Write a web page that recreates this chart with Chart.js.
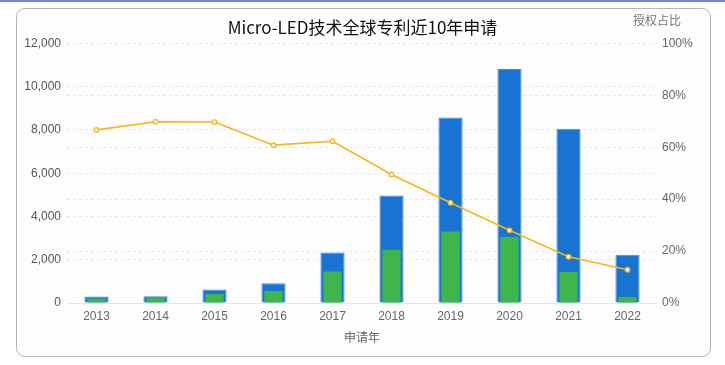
<!DOCTYPE html>
<html>
<head>
<meta charset="utf-8">
<script src="https://cdn.jsdelivr.net/npm/chart.js@4"></script>
<style>
  html, body { margin: 0; padding: 0; background: #ffffff; }
  #wrap { position: relative; width: 725px; height: 365px; overflow: hidden; }
  #topline { position: absolute; left: 0; top: 0; width: 725px; height: 2px; background: #6f88d8; }
  #card { position: absolute; left: 16px; top: 8px; width: 693px; height: 347px; border: 1px solid #b4b4b4; border-radius: 9px; background: #fdfdfd; }
  #box { position: absolute; left: 0; top: 0; width: 725px; height: 365px; }
</style>
</head>
<body>
<div id="wrap">
  <div id="topline"></div>
  <div id="card"></div>
  <div id="box"><canvas id="patentChart"></canvas></div>
</div>
<script>
// data
const years = ['2013', '2014', '2015', '2016', '2017', '2018', '2019', '2020', '2021', '2022'];
const applied = [300, 310, 620, 910, 2340, 4970, 8570, 10820, 8050, 2230];
const granted = [200, 220, 420, 560, 1460, 2460, 3310, 3050, 1430, 280];
const grantRatio = [66.7, 69.8, 69.7, 60.8, 62.3, 49.5, 38.6, 28.0, 17.8, 12.8];

const chartTitle = 'Micro-LED技术全球专利近10年申请';
const rightAxisName = '授权占比';
const xAxisName = '申请年';

const labelFont = "'Liberation Sans', 'Noto Sans CJK SC', sans-serif";
const cjkFont = "'Noto Sans CJK SC', 'Liberation Sans', sans-serif";

// small plugin for the right axis name above the % labels
const axisNamePlugin = {
    id: 'axisName',
    afterDraw(chart) {
        const c = chart.ctx;
        c.save();
        c.font = '12px ' + cjkFont;
        c.fillStyle = '#777777';
        c.textAlign = 'center';
        c.textBaseline = 'middle';
        c.fillText(rightAxisName, 657, 20);
        c.restore();
    }
};

const ctx = document.getElementById('patentChart').getContext('2d');
const patentChart = new Chart(ctx, {
    data: {
        labels: years,
        datasets: [
            {
                type: 'line',
                label: rightAxisName,
                data: grantRatio,
                yAxisID: 'y1',
                borderColor: '#f4b619',
                borderWidth: 1.6,
                pointRadius: 2.3,
                pointBorderWidth: 1.2,
                pointBackgroundColor: '#fff8d6',
                pointBorderColor: '#f4b619',
                tension: 0,
                order: 0
            },
            {
                type: 'bar',
                label: '授权',
                data: granted,
                yAxisID: 'y',
                backgroundColor: '#3fb64b',
                grouped: false,
                barPercentage: 0.31,
                categoryPercentage: 1,
                order: 1
            },
            {
                type: 'bar',
                label: '申请',
                data: applied,
                yAxisID: 'y',
                backgroundColor: '#1873d2',
                borderColor: '#3f8fe2',
                borderWidth: 1,
                grouped: false,
                barPercentage: 0.41,
                categoryPercentage: 1,
                order: 2
            }
        ]
    },
    options: {
        responsive: true,
        maintainAspectRatio: false,
        animation: false,
        layout: { padding: { left: 0, right: 0, top: 0, bottom: 0 } },
        plugins: {
            legend: { display: false },
            tooltip: { enabled: false },
            title: {
                display: true,
                text: chartTitle,
                color: '#111111',
                font: { family: cjkFont, size: 17, weight: 'normal' },
                padding: { top: 17, bottom: 6 }
            }
        },
        scales: {
            x: {
                grid: { display: false, drawTicks: false },
                border: { display: true, color: '#e2e5ec', width: 1 },
                ticks: { color: '#666666', font: { family: labelFont, size: 12 }, padding: 6 },
                title: {
                    display: true,
                    text: xAxisName,
                    color: '#666666',
                    font: { family: cjkFont, size: 12 },
                    padding: { top: 0, bottom: 20 }
                },
                afterFit: (scale) => { scale.height = 62; }
            },
            y: {
                position: 'left',
                min: 0,
                max: 12000,
                grid: { color: '#e9e9e9', drawTicks: false },
                border: { display: false, dash: [3, 3] },
                ticks: {
                    stepSize: 2000,
                    color: '#555555',
                    font: { family: labelFont, size: 12 },
                    padding: 6,
                    callback: (v) => v.toLocaleString('en-US')
                },
                afterFit: (scale) => { scale.width = 67; }
            },
            y1: {
                position: 'right',
                min: 0,
                max: 100,
                grid: { color: '#e9e9e9', drawTicks: false },
                border: { display: false, dash: [3, 3] },
                ticks: {
                    stepSize: 20,
                    color: '#666666',
                    font: { family: labelFont, size: 12 },
                    padding: 5,
                    callback: (v) => v + '%'
                },
                afterFit: (scale) => { scale.width = 68; }
            }
        }
    },
    plugins: [axisNamePlugin]
});
</script>
</body>
</html>
